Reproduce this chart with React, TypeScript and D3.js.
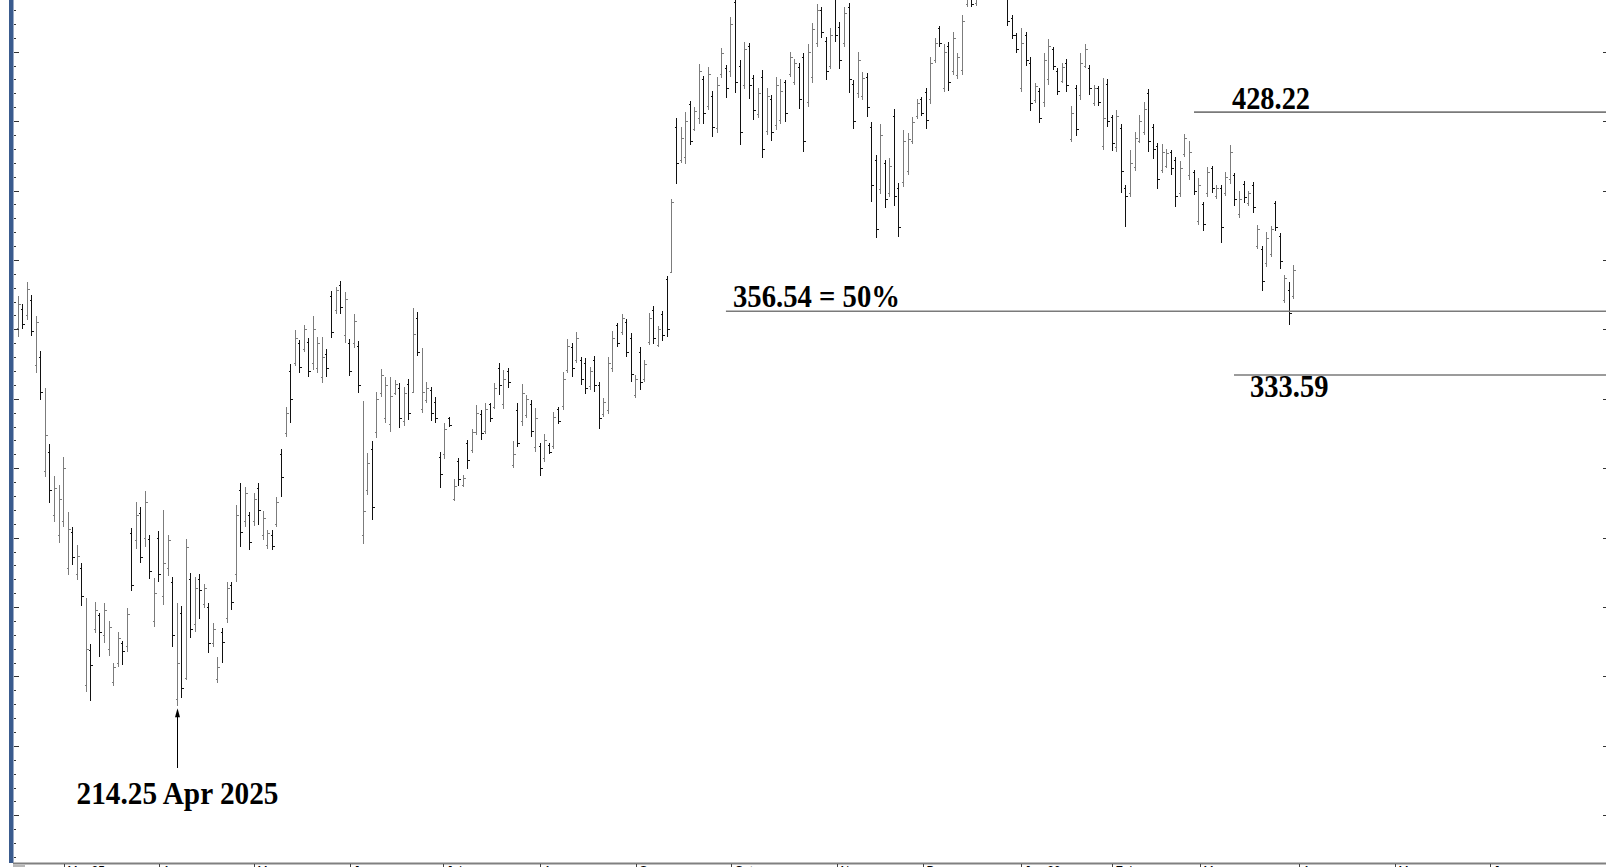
import React from 'react';
import * as d3 from 'd3';

// daily OHLC, Feb 2025 -> Mar 2026
const highs = [
  362.0, 359.2, 367.1, 362.4, 354.8, 342.2, 328.9, 308.8, 297.2, 294.0,
  304.1, 284.3, 278.9, 272.4, 265.9, 253.3, 236.8, 251.9, 247.9, 251.5,
  245.0, 229.9, 241.1, 237.8, 249.7, 278.5, 287.9, 286.1, 291.8, 276.0,
  260.5, 277.4, 285.0, 276.0, 260.9, 251.5, 250.4, 274.6, 262.3, 260.9,
  261.9, 258.4, 251.5, 244.3, 232.1, 242.5, 259.1, 259.1, 286.8, 294.7,
  293.3, 284.3, 291.1, 294.7, 284.6, 277.8, 277.8, 289.7, 307.0, 322.1,
  337.6, 349.8, 346.2, 351.6, 346.9, 354.8, 347.3, 347.3, 343.0, 363.8,
  365.3, 367.4, 363.5, 346.6, 355.6, 345.8, 324.2, 305.5, 309.8, 327.5,
  335.8, 332.9, 332.9, 331.8, 330.7,
  329.3, 332.2, 357.7, 356.3, 343.3, 331.1, 329.3, 325.7, 305.9, 316.3,
  318.5, 296.2, 303.7, 297.6, 310.2, 314.2, 322.8, 321.0, 323.5, 323.5,
  330.7, 337.9, 335.4, 336.1, 309.8, 323.5, 330.4, 326.4, 324.6, 321.7,
  309.1, 312.4, 309.1, 320.3, 322.1, 334.7, 346.6, 345.1, 349.1, 340.1,
  339.7, 336.5, 340.4, 331.1, 325.3, 340.1, 349.4, 352.3, 355.6, 353.8,
  348.7, 333.6, 343.7, 339.0, 355.9, 358.4, 351.2, 356.6, 369.2,
  397.0, 426.1, 422.9, 428.3, 432.2, 430.1, 445.6, 441.2, 444.5, 435.8,
  440.9, 451.3, 445.2, 462.5, 472.0, 447.0, 453.5, 453.1, 441.6, 436.9,
  443.4, 436.9, 434.4, 440.9, 440.2, 439.8, 449.9, 447.4, 445.9, 449.5,
  452.8, 460.3, 467.2, 466.1, 455.3, 458.5, 474.0, 460.7, 466.1, 467.5,
  439.8, 449.9, 442.7, 442.3, 424.7, 412.8, 424.0, 411.0, 411.7, 429.4,
  402.7, 421.8, 420.7, 426.5, 433.0, 433.7, 436.9, 448.1, 454.9, 459.2,
  452.8, 453.5, 457.1, 449.5, 463.2, 476.0, 478.0, 477.0,
  484, 488, 490, 489, 485, 482,
  471.0, 463.2, 456.7, 458.5, 457.1, 448.1, 438.7, 436.9, 449.5, 454.6,
  451.7, 444.1, 445.9, 447.4, 430.4, 438.0, 449.5, 452.8, 445.2, 438.0,
  437.6, 440.5, 440.2, 427.2, 429.0, 424.0, 402.0, 414.6, 421.1, 427.2,
  431.9, 436.6, 424.0, 417.1, 416.8, 415.0, 414.6, 412.1, 410.6, 420.4,
  417.8, 407.4, 404.5, 395.9, 408.5, 408.8, 402.0, 402.0, 406.7, 416.4,
  406.3, 399.8, 403.4, 399.8, 403.1, 387.6, 380.0, 385.1, 387.2, 396.2,
  384.7, 369.6, 367.1, 373.2,
];

const lows = [
  347.3, 350.2, 353.4, 347.6, 334.3, 324.6, 296.9, 287.5, 280.7, 273.1,
  278.9, 261.6, 265.2, 259.8, 250.4, 219.5, 216.2, 240.7, 232.1, 237.1,
  232.4, 221.6, 228.5, 229.2, 233.9, 255.8, 271.0, 265.9, 271.7, 260.2,
  242.9, 259.1, 250.8, 261.2, 235.7, 214.25, 217.3, 223.8, 238.9, 241.1,
  245.8, 249.7, 233.5, 235.7, 222.7, 229.9, 244.3, 249.0, 259.1, 271.7,
  278.9, 270.6, 279.2, 279.6, 274.2, 271.0, 270.6, 278.9, 289.7, 311.3,
  316.3, 336.8, 334.3, 341.9, 332.9, 335.4, 334.3, 330.7, 332.9, 346.9,
  355.6, 355.6, 345.1, 333.2, 343.3, 327.1, 272.8, 290.4, 281.4, 310.9,
  325.7, 316.3, 313.1, 326.4, 314.5,
  315.2, 317.4, 327.1, 340.4, 319.9, 323.5, 317.0, 316.3, 292.9, 303.4,
  314.9, 288.2, 293.6, 293.3, 299.8, 305.5, 312.0, 310.2, 312.4, 316.7,
  321.4, 326.4, 321.4, 328.9, 300.1, 307.7, 315.2, 318.1, 311.3, 305.9,
  297.2, 302.3, 305.2, 307.0, 316.0, 321.0, 334.3, 332.9, 337.9, 330.0,
  326.8, 328.2, 327.5, 314.2, 318.5, 319.6, 334.7, 343.7, 348.0, 340.1,
  331.1, 325.3, 328.2, 331.1, 344.4, 344.8, 343.7, 345.8, 347.3,
  370.3, 402.4, 409.9, 409.6, 416.4, 421.4, 424.0, 424.0, 429.0, 419.3,
  420.7, 440.5, 433.3, 440.9, 435.1, 416.4, 436.6, 433.0, 425.4, 426.1,
  411.7, 420.0, 417.8, 421.8, 424.0, 424.7, 440.9, 438.0, 429.4, 413.9,
  430.1, 438.7, 451.7, 454.9, 439.8, 443.8, 453.5, 443.8, 451.7, 435.1,
  422.2, 433.3, 432.6, 426.5, 395.9, 382.9, 398.8, 393.7, 397.7, 394.4,
  383.3, 401.3, 405.6, 416.8, 425.8, 426.8, 422.2, 431.2, 445.9, 451.7,
  435.5, 435.8, 441.6, 440.2, 441.6, 466.1, 466.1, 466.4,
  472, 476, 478, 477, 473, 470,
  459.2, 454.6, 449.5, 435.5, 444.8, 428.6, 431.5, 424.3, 430.1, 438.0,
  443.4, 434.4, 438.7, 435.5, 417.5, 419.6, 432.6, 444.1, 434.4, 430.4,
  430.4, 414.6, 422.9, 414.2, 413.9, 399.1, 386.9, 397.7, 407.0, 417.1,
  420.0, 413.9, 411.4, 400.6, 406.3, 408.1, 405.6, 394.1, 397.7, 412.1,
  403.8, 398.4, 387.6, 385.4, 397.7, 399.1, 397.0, 381.1, 398.0, 402.4,
  394.4, 390.1, 395.5, 394.4, 391.9, 379.0, 363.8, 372.5, 376.1, 385.4,
  371.8, 359.5, 351.5, 361.0,
];

const opens = [
  350.5, 357.5, 355.0, 360.5, 337.0, 340.0, 299.0, 306.0, 283.0, 276.0,
  281.0, 264.0, 277.0, 262.0, 264.0, 222.0, 234.5, 242.0, 247.0, 240.0,
  235.0, 223.0, 230.0, 237.0, 236.0, 276.5, 274.0, 284.0, 275.0, 274.5,
  245.0, 275.0, 254.0, 264.0, 259.0, 217.0, 248.0, 224.5, 260.0, 244.0,
  260.0, 251.0, 250.0, 237.0, 224.0, 241.0, 246.0, 258.0, 262.0, 292.0,
  281.0, 283.0, 281.0, 293.0, 276.0, 272.5, 276.0, 280.0, 305.0, 312.5,
  335.0, 338.0, 345.0, 343.0, 345.5, 338.0, 336.0, 333.0, 341.0, 362.0,
  357.0, 366.0, 348.0, 345.0, 345.0, 344.0, 276.0, 292.0, 307.0, 313.0,
  327.0, 318.0, 316.0, 327.0, 329.0,
  317.0, 330.5, 327.5, 354.0, 321.5, 324.5, 328.0, 324.0, 304.0, 305.0,
  318.0, 289.0, 302.5, 294.0, 309.0, 306.5, 313.0, 319.5, 313.5, 323.0,
  322.0, 336.0, 323.0, 335.0, 301.0, 321.0, 317.0, 319.0, 323.0, 307.5,
  308.0, 303.5, 308.5, 308.0, 321.5, 322.5, 335.5, 343.5, 339.0, 339.0,
  338.0, 329.5, 339.0, 330.0, 319.5, 321.0, 336.0, 351.5, 349.0, 352.5,
  347.0, 326.5, 342.0, 332.0, 345.5, 357.0, 344.5, 355.5, 368.0,
  370.5, 423.0, 411.0, 412.0, 431.0, 422.0, 426.0, 440.0, 430.5, 434.0,
  422.5, 442.0, 444.0, 443.0, 468.0, 445.0, 438.0, 452.0, 440.5, 427.5,
  441.0, 421.5, 433.0, 423.5, 425.5, 439.0, 442.0, 439.0, 444.5, 448.0,
  432.0, 441.0, 453.0, 465.0, 454.0, 445.0, 470.0, 459.0, 453.0, 466.0,
  438.5, 435.0, 434.0, 441.0, 423.0, 411.0, 400.5, 410.0, 399.0, 427.0,
  401.0, 403.0, 407.0, 418.0, 427.0, 433.0, 435.5, 433.0, 447.0, 458.5,
  437.0, 452.0, 443.0, 441.5, 443.5, 467.0, 476.0, 467.5,
  474, 483, 480, 487, 480, 478,
  469.0, 462.0, 456.0, 437.0, 456.0, 446.0, 432.5, 436.0, 432.0, 440.0,
  451.0, 443.0, 439.5, 446.0, 418.5, 437.0, 434.5, 445.0, 444.0, 431.5,
  437.0, 416.0, 438.5, 426.5, 415.5, 422.5, 401.0, 399.0, 408.5, 418.0,
  421.0, 435.0, 423.0, 416.0, 407.5, 409.0, 414.0, 411.0, 399.0, 413.0,
  405.5, 406.5, 389.0, 395.0, 399.0, 408.0, 398.0, 401.0, 399.0, 404.0,
  405.5, 391.5, 402.5, 395.5, 402.0, 380.0, 379.0, 374.0, 377.0, 395.5,
  383.5, 360.5, 364.0, 362.0,
];

const closes = [
  359.0, 352.0, 364.5, 349.5, 352.5, 327.5, 312.0, 292.0, 293.0, 289.0,
  300.0, 278.0, 268.0, 268.5, 254.0, 235.0, 229.0, 249.0, 241.0, 249.0,
  243.0, 228.5, 239.0, 234.0, 247.5, 258.0, 283.0, 268.0, 288.0, 263.0,
  255.0, 262.0, 266.0, 274.0, 240.0, 230.0, 221.0, 271.5, 242.0, 257.0,
  256.0, 257.0, 237.0, 242.0, 228.5, 237.5, 257.0, 252.0, 283.0, 277.0,
  291.0, 273.5, 289.0, 285.0, 282.0, 276.5, 272.0, 288.0, 297.0, 320.0,
  325.0, 347.0, 336.5, 350.0, 335.0, 350.0, 345.0, 340.0, 336.0, 349.0,
  364.0, 358.0, 361.0, 335.0, 353.0, 330.0, 284.5, 302.0, 286.0, 325.0,
  333.5, 330.0, 326.0, 330.5, 318.0,
  327.0, 320.0, 348.5, 342.0, 327.5, 329.0, 320.0, 318.0, 298.0, 314.0,
  315.5, 293.5, 296.0, 296.5, 303.0, 313.0, 320.0, 312.5, 321.5, 318.0,
  329.0, 330.0, 332.0, 331.0, 305.0, 309.0, 327.0, 325.0, 313.5, 318.0,
  300.0, 310.0, 306.0, 318.5, 317.0, 332.0, 344.0, 336.0, 347.0, 332.0,
  329.0, 335.0, 330.0, 318.0, 324.0, 338.0, 347.0, 345.0, 354.0, 342.0,
  334.0, 332.0, 331.0, 337.5, 354.0, 347.0, 350.0, 348.0, 350.0,
  396.0, 410.0, 419.0, 425.0, 418.0, 428.5, 443.0, 428.0, 442.0, 423.0,
  438.0, 449.5, 437.0, 460.0, 439.0, 421.0, 451.0, 438.0, 429.0, 435.0,
  415.0, 434.0, 421.0, 438.0, 436.0, 428.0, 448.0, 446.0, 433.0, 418.0,
  450.0, 458.0, 465.0, 457.0, 443.0, 456.0, 456.0, 447.0, 464.0, 440.0,
  425.0, 447.0, 440.5, 430.0, 402.0, 386.0, 420.0, 397.0, 409.0, 398.0,
  387.0, 418.0, 418.5, 424.5, 431.5, 428.0, 425.5, 446.0, 453.0, 453.0,
  450.0, 439.0, 455.0, 448.0, 461.0, 474.0, 467.0, 475.0,
  482, 480, 488, 479, 475, 472,
  461.0, 456.0, 451.0, 453.0, 447.0, 431.5, 437.5, 426.0, 447.0, 452.0,
  445.0, 436.0, 444.5, 438.0, 428.0, 422.0, 446.0, 451.0, 437.0, 437.0,
  432.0, 426.0, 425.0, 417.0, 427.0, 407.0, 398.0, 410.0, 419.0, 425.0,
  429.5, 418.0, 415.0, 404.0, 414.0, 413.5, 408.0, 398.0, 408.0, 419.0,
  414.0, 400.0, 402.0, 388.0, 406.5, 401.0, 401.0, 387.0, 405.0, 414.0,
  397.0, 397.0, 397.5, 399.0, 394.0, 386.0, 367.5, 383.0, 386.0, 387.0,
  374.5, 368.5, 356.0, 371.5,
];

// month boundaries, in bar slots
const monthLabels = ['Mar 25', 'Apr', 'May', 'Jun', 'Jul', 'Aug', 'Sep', 'Oct', 'Nov', 'Dec', 'Jan 26', 'Feb', 'Mar', 'Apr', 'May', 'Jun'];
const monthStarts = [10.1, 31.1, 52.0, 73.2, 93.6, 115.0, 136.2, 157.1, 180.4, 199.4, 221.0, 241.0, 260.4, 282.2, 303.3, 324.3];

// retracement levels
const levelValues = [428.22, 356.54, 333.59];
const levelTexts = ['428.22', '356.54 = 50%', '333.59'];
const lowValue = 214.25;
const lowText = '214.25 Apr 2025';
const lowIndex = 35;

const W = 1606;
const H = 867;
const serif = "'Liberation Serif', 'Times New Roman', serif";

export default function App() {
  const y = d3.scaleLinear().domain([158.2, 468.6]).range([862, 0]);
  const x = d3.scaleLinear().domain([0, 349]).range([17.7, 17.7 + 349 * 4.54]);

  const minor = d3.range(160, 470, 5);
  const major = d3.range(175, 470, 25);

  // where each level line starts (slot) and how its label sits
  const levelLayout = [
    { from: 259.1, tx: 1232, dy: -3, w: 78 },
    { from: 156, tx: 733, dy: -4, w: 167 },
    { from: 267.9, tx: 1250, dy: 22, w: 78.5 },
  ];

  const ax = Math.round(x(lowIndex)) + 0.5;
  const tipY = y(lowValue) + 2;

  return (
    <>
      <style>{`body{margin:0;overflow:hidden}`}</style>
      <svg width={W} height={H} style={{ display: 'block', background: '#fff' }}>
        {/* bars */}
        <g shapeRendering="crispEdges">
          {highs.map((h, i) => {
            const cx = Math.round(x(i)) + 0.5;
            const up = closes[i] >= opens[i];
            const c = up ? '#7c7c7c' : '#111';
            const yo = Math.round(y(opens[i])) + 0.5;
            const yc = Math.round(y(closes[i])) + 0.5;
            return (
              <g key={i} stroke={c} strokeWidth={1}>
                <line x1={cx} x2={cx} y1={y(h)} y2={y(lows[i])} />
                <line x1={cx - 2} x2={cx} y1={yo} y2={yo} />
                <line x1={cx} x2={cx + 2} y1={yc} y2={yc} />
              </g>
            );
          })}
        </g>

        {/* levels */}
        {levelValues.map((v, i) => {
          const L = levelLayout[i];
          const ly = y(v);
          return (
            <g key={i}>
              <line x1={x(L.from)} x2={W} y1={ly} y2={ly} stroke="#7a7a7a" strokeWidth={1.6} />
              <text
                x={L.tx}
                y={ly + L.dy}
                fontFamily={serif}
                fontWeight="bold"
                fontSize={31}
                textLength={L.w}
                lengthAdjust="spacingAndGlyphs"
                fill="#000"
              >
                {levelTexts[i]}
              </text>
            </g>
          );
        })}

        {/* low annotation */}
        <line x1={ax} x2={ax} y1={768} y2={tipY + 6} stroke="#000" strokeWidth={1} />
        <path d={`M${ax},${tipY} L${ax - 2.5},${tipY + 9} L${ax + 2.5},${tipY + 9} Z`} fill="#000" />
        <text
          x={ax}
          y={804}
          textAnchor="middle"
          fontFamily={serif}
          fontWeight="bold"
          fontSize={31}
          textLength={202}
          lengthAdjust="spacingAndGlyphs"
        >
          {lowText}
        </text>

        {/* left axis */}
        <rect x={9} y={0} width={4.5} height={863} fill="#3a5b8e" />
        <g stroke="#333" shapeRendering="crispEdges">
          {minor.map((v) => (
            <line key={v} x1={13.5} x2={16} y1={Math.round(y(v)) + 0.5} y2={Math.round(y(v)) + 0.5} />
          ))}
          {major.map((v) => (
            <line key={'M' + v} x1={13.5} x2={18.5} y1={Math.round(y(v)) + 0.5} y2={Math.round(y(v)) + 0.5} />
          ))}
          {major.map((v) => (
            <line key={'R' + v} x1={1603} x2={W} y1={Math.round(y(v)) + 0.5} y2={Math.round(y(v)) + 0.5} />
          ))}
        </g>

        {/* bottom axis */}
        <line x1={13} x2={W} y1={863.5} y2={863.5} stroke="#808080" strokeWidth={2} />
        <rect x={13} y={865} width={12} height={3} fill="#b8b8b8" />
        {monthStarts.map((m, i) => {
          const mx = Math.round(x(m)) + 0.5;
          return (
            <g key={i}>
              <line x1={mx} x2={mx} y1={864} y2={H} stroke="#444" strokeWidth={1} />
              <text x={mx + 3} y={875} fontFamily="Arial, 'Liberation Sans', sans-serif" fontSize={12} fill="#000">
                {monthLabels[i]}
              </text>
            </g>
          );
        })}
      </svg>
    </>
  );
}
